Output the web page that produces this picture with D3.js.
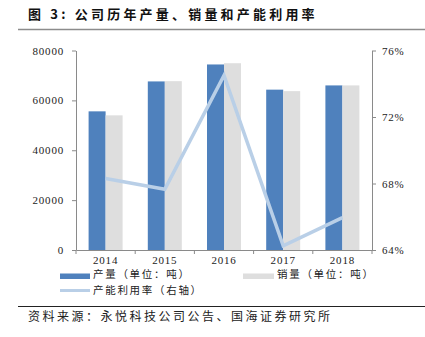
<!DOCTYPE html>
<html>
<head>
<meta charset="utf-8">
<script src="https://cdn.jsdelivr.net/npm/d3@7"></script>
<style>
  html, body { margin: 0; padding: 0; background: #fff; }
  svg { display: block; }
</style>
</head>
<body>
<svg id="chart" width="425" height="337"></svg>
<script>
// Annual output, sales and capacity utilisation
const years = ["2014", "2015", "2016", "2017", "2018"];
const output = [55600, 67600, 74400, 64300, 66000];      // 产量（吨）
const sales = [54000, 67700, 74900, 63700, 66000];       // 销量（吨）
const utilisation = [68.3, 67.65, 74.5, 64.25, 65.95];   // 产能利用率（%）
const leftTicks = [0, 20000, 40000, 60000, 80000];
const rightTicks = [64, 68, 72, 76];

const svg = d3.select("#chart");
const cjk = "'Noto Sans CJK SC', sans-serif";
const serif = "'Liberation Serif', 'DejaVu Serif', serif";
const axisColor = "#8a8a8a";

const plot = { left: 76, right: 372, top: 50.5, bottom: 250 };

const x = d3.scaleBand().domain(years).range([plot.left, plot.right]).paddingInner(0).paddingOuter(0);
const yL = d3.scaleLinear().domain([0, 80000]).range([plot.bottom, plot.top]);
const yR = d3.scaleLinear().domain([64, 76]).range([plot.bottom, plot.top]);
const barW = 17;

// Title and rule
svg.append("text")
  .attr("x", 28).attr("y", 19)
  .attr("font-family", cjk).attr("font-weight", "bold")
  .attr("font-size", 13).attr("letter-spacing", 3.2)
  .attr("fill", "#111")
  .text("图 3:  公司历年产量、销量和产能利用率");
svg.append("line")
  .attr("x1", 18).attr("x2", 425).attr("y1", 29.5).attr("y2", 29.5)
  .attr("stroke", "#8c8c8c").attr("stroke-width", 1.6);

// Bars
const g = svg.append("g");
g.selectAll("rect.output").data(years).join("rect")
  .attr("class", "output")
  .attr("x", d => x(d) + x.bandwidth() / 2 - barW)
  .attr("width", barW)
  .attr("y", (d, i) => yL(output[i]))
  .attr("height", (d, i) => plot.bottom - yL(output[i]))
  .attr("fill", "#4f81bd");
g.selectAll("rect.sales").data(years).join("rect")
  .attr("class", "sales")
  .attr("x", d => x(d) + x.bandwidth() / 2)
  .attr("width", barW)
  .attr("y", (d, i) => yL(sales[i]))
  .attr("height", (d, i) => plot.bottom - yL(sales[i]))
  .attr("fill", "#dedede");

// Utilisation line on the right axis
const line = d3.line()
  .x((d, i) => x(years[i]) + x.bandwidth() / 2)
  .y(d => yR(d));
g.append("path")
  .datum(utilisation)
  .attr("d", line)
  .attr("fill", "none")
  .attr("stroke", "#b9cfe7")
  .attr("stroke-width", 3.5)
  .attr("stroke-linejoin", "miter");

// Axes
function styleAxis(sel) {
  sel.selectAll("path, line").attr("stroke", axisColor).attr("stroke-width", 1);
  sel.selectAll("text")
    .attr("font-family", serif).attr("font-size", 11)
    .attr("letter-spacing", 0.8).attr("fill", "#222");
}

const leftAxis = svg.append("g")
  .attr("transform", `translate(${plot.left},0)`)
  .call(d3.axisLeft(yL).tickValues(leftTicks).tickFormat(d3.format("d")).tickSizeInner(4).tickSizeOuter(0).tickPadding(8));
styleAxis(leftAxis);

const rightAxis = svg.append("g")
  .attr("transform", `translate(${plot.right},0)`)
  .call(d3.axisRight(yR).tickValues(rightTicks).tickFormat(d => d + "%").tickSizeInner(4).tickSizeOuter(0).tickPadding(6));
styleAxis(rightAxis);

const bottomAxis = svg.append("g")
  .attr("transform", `translate(0,${plot.bottom})`)
  .call(d3.axisBottom(x).tickSize(0).tickPadding(6));
styleAxis(bottomAxis);
// category boundary ticks
bottomAxis.selectAll("line.sep")
  .data(years.map(d => x(d)).concat([plot.right]))
  .join("line").attr("class", "sep")
  .attr("x1", d => d).attr("x2", d => d)
  .attr("y1", 0).attr("y2", 4)
  .attr("stroke", axisColor);

// Legend
const legend = svg.append("g");
const legendText = (lx, ly, t) => legend.append("text")
  .attr("x", lx).attr("y", ly)
  .attr("font-family", cjk).attr("font-size", 10.5).attr("letter-spacing", 1.7)
  .attr("dominant-baseline", "middle").attr("fill", "#222")
  .text(t);
legend.append("rect").attr("x", 60).attr("y", 273.5).attr("width", 30).attr("height", 5.5).attr("fill", "#4f81bd");
legendText(93, 275.5, "产量（单位：吨）");
legend.append("rect").attr("x", 243).attr("y", 273.5).attr("width", 31).attr("height", 5.5).attr("fill", "#dedede");
legendText(277, 275.5, "销量（单位：吨）");
legend.append("line").attr("x1", 60).attr("x2", 90).attr("y1", 290.5).attr("y2", 290.5)
  .attr("stroke", "#b9cfe7").attr("stroke-width", 3);
legendText(93, 291.5, "产能利用率（右轴）");

// Source note
svg.append("line")
  .attr("x1", 18).attr("x2", 425).attr("y1", 306.5).attr("y2", 306.5)
  .attr("stroke", "#222").attr("stroke-width", 1);
svg.append("text")
  .attr("x", 28).attr("y", 318)
  .attr("font-family", cjk).attr("font-size", 12).attr("letter-spacing", 2.5)
  .attr("dominant-baseline", "middle").attr("fill", "#222")
  .text("资料来源：永悦科技公司公告、国海证券研究所");
</script>
</body>
</html>
